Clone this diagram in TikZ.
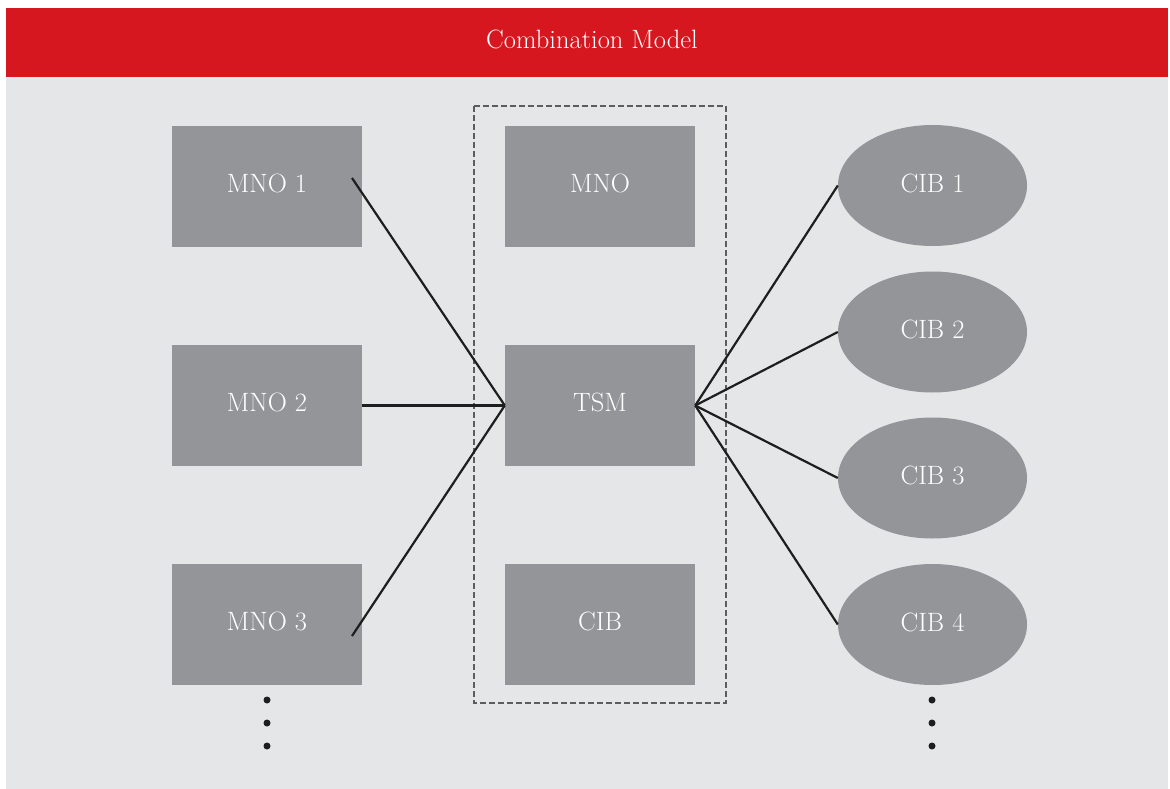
\documentclass[tikz,border=0pt]{standalone}
\usetikzlibrary{shapes.geometric}
\definecolor{bannerred}{HTML}{D7171F}
\definecolor{panelgray}{HTML}{E5E6E8}
\definecolor{boxgray}{HTML}{939598}
\definecolor{dashgray}{HTML}{5C5D5F}
\definecolor{linkblack}{HTML}{1E1E1E}
\tikzset{
  labelfont/.style={text=white, font=\fontsize{26.5}{30}\selectfont},
  unitbox/.style={rectangle, fill=boxgray, minimum width=190pt, minimum height=121pt,
    inner sep=0pt, text depth=6pt, labelfont},
  cibnode/.style={ellipse, fill=boxgray, minimum width=189pt, minimum height=121pt,
    inner sep=0pt, text depth=5pt, labelfont},
  link/.style={draw=linkblack, line width=2.2pt},
  ellip/.style={circle, fill=linkblack, inner sep=0pt, minimum size=7pt},
}
\begin{document}
\begin{tikzpicture}[x=1pt, y=-1pt]
\useasboundingbox (0,0) rectangle (1170,789);
\fill[white] (0,0) rectangle (1170,789);
% panel and title banner
\fill[panelgray] (6,77) rectangle (1168,789);
\fill[bannerred] (6,8) rectangle (1168,77);
\node[labelfont, inner sep=0pt] (title) at (592,39) {Combination Model};

% grouping frame around the combined entity
\draw[dashgray, line width=2.2pt, dash pattern=on 6pt off 3pt] (474,106) rectangle (726,703);

% left column
\node[unitbox] (mno1) at (267,186.5) {MNO 1};
\node[unitbox] (mno2) at (267,405.5) {MNO 2};
\node[unitbox] (mno3) at (267,624.5) {MNO 3};

% centre column
\node[unitbox] (mno) at (600,186.5) {MNO};
\node[unitbox] (tsm) at (600,405.5) {TSM};
\node[unitbox] (cib) at (600,624.5) {CIB};

% right column
\node[cibnode] (cib1) at (932.5,185.5) {CIB 1};
\node[cibnode] (cib2) at (932.5,332) {CIB 2};
\node[cibnode] (cib3) at (932.5,478) {CIB 3};
\node[cibnode] (cib4) at (932.5,624.5) {CIB 4};

% connectors
\coordinate (s1) at (352,178);
\coordinate (s3) at (352,636);
\draw[link] (s1) -- (tsm.west);
\draw[link] (mno2.east) -- (tsm.west);
\draw[link] (s3) -- (tsm.west);
\draw[link] (tsm.east) -- (cib1.west);
\draw[link] (tsm.east) -- (cib2.west);
\draw[link] (tsm.east) -- (cib3.west);
\draw[link] (tsm.east) -- (cib4.west);

% continuation dots
\foreach \yy [count=\i] in {700,723,746} {
  \node[ellip] (ldot\i) at (267,\yy) {};
  \node[ellip] (rdot\i) at (932,\yy) {};
}
\end{tikzpicture}
\end{document}
